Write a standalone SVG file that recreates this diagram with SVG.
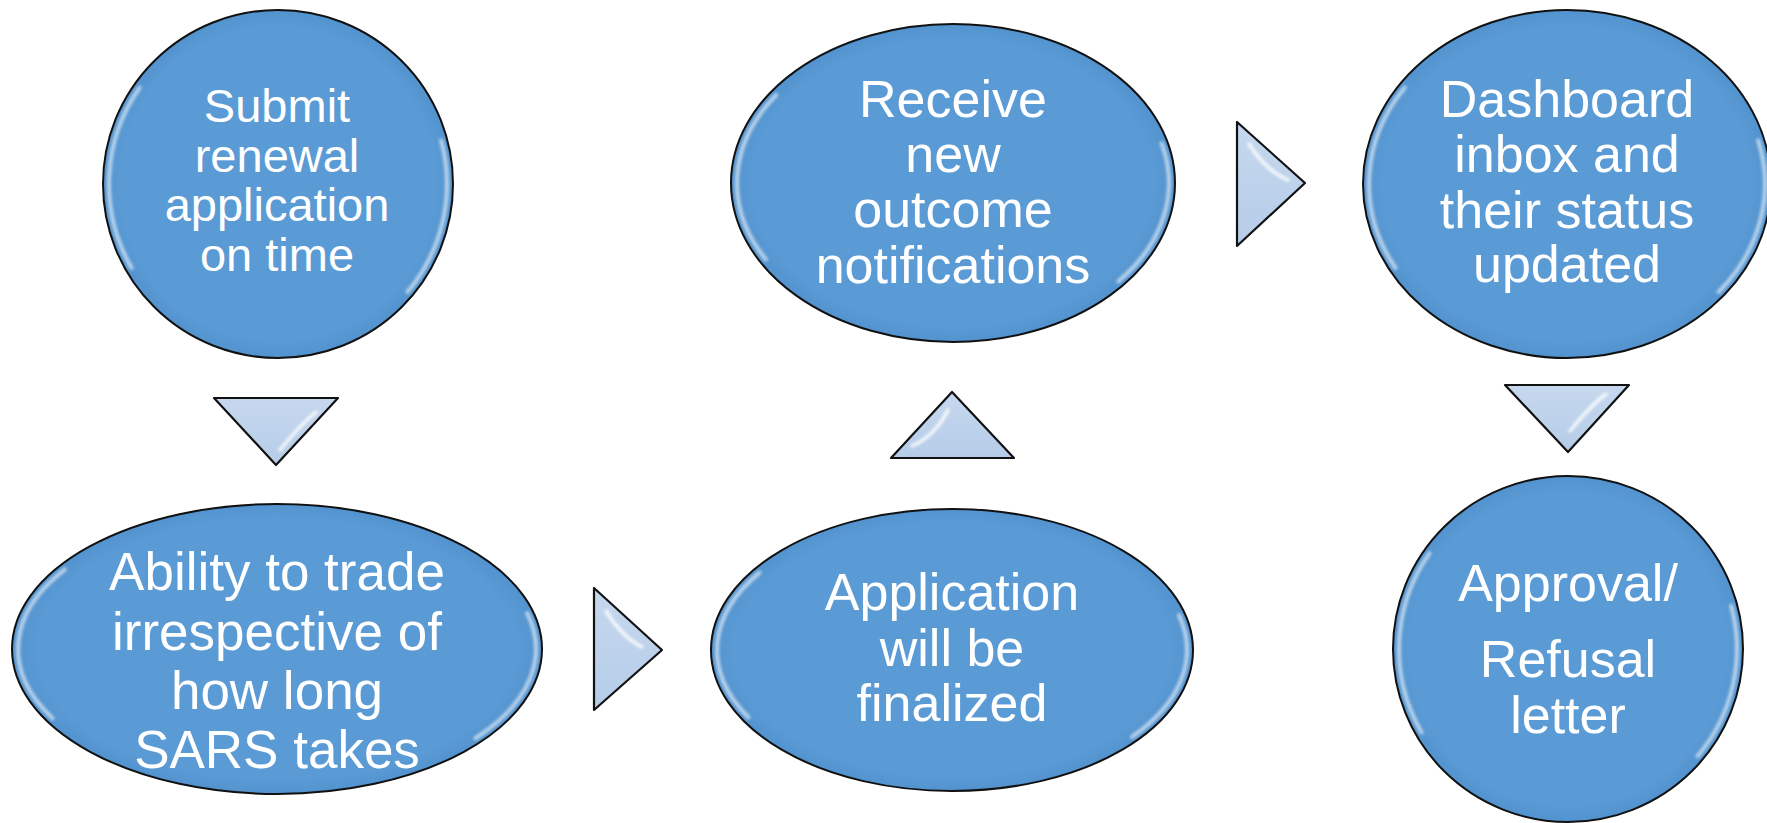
<svg xmlns="http://www.w3.org/2000/svg" width="1767" height="823" viewBox="0 0 1767 823">
<style>
.shape{fill:url(#blueFill);stroke:#111;stroke-width:2}
.hl{fill:none;stroke:#ffffff;stroke-width:4;stroke-linecap:round;opacity:0.6;filter:url(#soft)}
.tri{fill:url(#triFill);stroke:#111;stroke-width:2.2;stroke-linejoin:round}
.thl{fill:none;stroke:#ffffff;stroke-width:3.5;stroke-linecap:round;opacity:0.85;filter:url(#soft)}
.lbl{font-family:"Liberation Sans",Arial,sans-serif;fill:#ffffff;text-anchor:middle}
</style>
<defs>
<radialGradient id="blueFill" cx="50%" cy="50%" r="50%">
<stop offset="0" stop-color="#5B9BD5"/>
<stop offset="0.9" stop-color="#5B9BD5"/>
<stop offset="1" stop-color="#5292CE"/>
</radialGradient>
<linearGradient id="triFill" x1="0" y1="0" x2="0" y2="1">
<stop offset="0" stop-color="#C6D8EE"/>
<stop offset="1" stop-color="#B5CCE8"/>
</linearGradient>
<filter id="soft" x="-20%" y="-20%" width="140%" height="140%">
<feGaussianBlur stdDeviation="1.4"/>
</filter>
</defs>
<rect width="1767" height="823" fill="#ffffff"/>

<g id="connectors">
<g id="arrow-1-2">
<polygon class="tri" points="214,398 338,398 276,465"/>
<path class="thl" d="M280,450 Q300,425 316,412"/>
</g>
<g id="arrow-2-3">
<polygon class="tri" points="594,588 594,710 662,650"/>
<path class="thl" d="M606,611 Q622,637 642,647"/>
</g>
<g id="arrow-3-4">
<polygon class="tri" points="891,458 1014,458 952,392"/>
<path class="thl" d="M912,446 Q935,436 948,410"/>
</g>
<g id="arrow-4-5">
<polygon class="tri" points="1237,122 1237,246 1305,183"/>
<path class="thl" d="M1249,144 Q1266,171 1288,180"/>
</g>
<g id="arrow-5-6">
<polygon class="tri" points="1505,385 1629,385 1568,452"/>
<path class="thl" d="M1570,431 Q1590,406 1606,394"/>
</g>
</g>

<g id="node-submit">
<ellipse class="shape" cx="278" cy="184" rx="175" ry="174"/>
<path class="hl" d="M139.6,87.6 A169,168 0 0 0 131.6,268"/>
<path class="hl" d="M407.5,292 A169,168 0 0 0 441.2,140.5"/>
<text class="lbl" font-size="47"><tspan x="277" y="122">Submit</tspan><tspan x="277" y="172">renewal</tspan><tspan x="277" y="221">application</tspan><tspan x="277" y="271">on time</tspan></text>
</g>

<g id="node-ability">
<ellipse class="shape" cx="277" cy="649" rx="265" ry="145"/>
<path class="hl" d="M64.8,569.3 A259,139 0 0 0 52.7,718.5"/>
<path class="hl" d="M475.4,738.3 A259,139 0 0 0 527.2,613"/>
<text class="lbl" font-size="53"><tspan x="277" y="590">Ability to trade</tspan><tspan x="277" y="650">irrespective of</tspan><tspan x="277" y="709">how long</tspan><tspan x="277" y="768">SARS takes</tspan></text>
</g>

<g id="node-finalized">
<ellipse class="shape" cx="952" cy="650" rx="241" ry="141"/>
<path class="hl" d="M759.5,572.6 A235,135 0 0 0 748.5,717.5"/>
<path class="hl" d="M1132,736.8 A235,135 0 0 0 1179,615.1"/>
<text class="lbl" font-size="52"><tspan x="952" y="610">Application</tspan><tspan x="952" y="666">will be</tspan><tspan x="952" y="721">finalized</tspan></text>
</g>

<g id="node-receive">
<ellipse class="shape" cx="953" cy="183" rx="222" ry="159"/>
<path class="hl" d="M776.1,95.2 A216,153 0 0 0 765.9,259.5"/>
<path class="hl" d="M1118.5,281.3 A216,153 0 0 0 1161.6,143.4"/>
<text class="lbl" font-size="52"><tspan x="953" y="117">Receive</tspan><tspan x="953" y="172">new</tspan><tspan x="953" y="227">outcome</tspan><tspan x="953" y="283">notifications</tspan></text>
</g>

<g id="node-dashboard">
<ellipse class="shape" cx="1567" cy="184" rx="204" ry="174"/>
<path class="hl" d="M1404.8,87.6 A198,168 0 0 0 1395.5,268"/>
<path class="hl" d="M1718.7,292 A198,168 0 0 0 1758.3,140.5"/>
<text class="lbl" font-size="52"><tspan x="1567" y="117">Dashboard</tspan><tspan x="1567" y="172">inbox and</tspan><tspan x="1567" y="228">their status</tspan><tspan x="1567" y="282">updated</tspan></text>
</g>

<g id="node-approval">
<ellipse class="shape" cx="1568" cy="649" rx="175" ry="173"/>
<path class="hl" d="M1429.6,553.2 A169,167 0 0 0 1421.6,732.5"/>
<path class="hl" d="M1697.5,756.3 A169,167 0 0 0 1731.2,605.8"/>
<text class="lbl" font-size="52"><tspan x="1568" y="601">Approval/</tspan><tspan x="1568" y="677">Refusal</tspan><tspan x="1568" y="733">letter</tspan></text>
</g>
</svg>
